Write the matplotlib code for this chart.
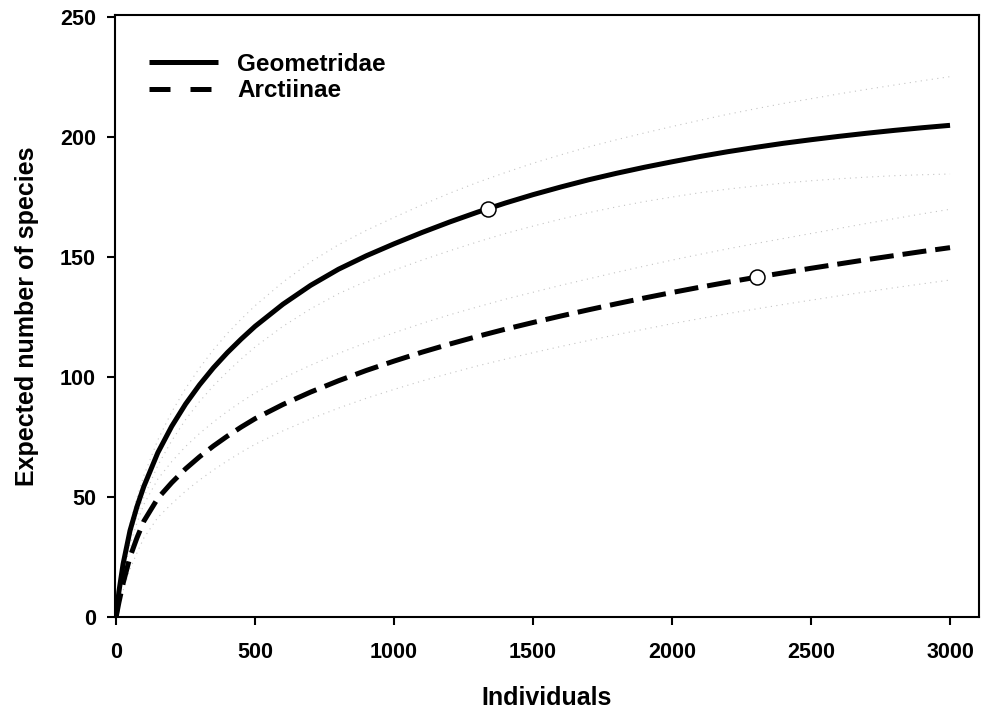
import numpy as np
import matplotlib
matplotlib.use('Agg')
import matplotlib.pyplot as plt
from matplotlib.lines import Line2D

plt.rcParams['font.family'] = ['Liberation Sans', 'DejaVu Sans']
plt.rcParams['font.weight'] = 'bold'

#%% data (rarefaction curves with 95% CI)
x = [0, 10, 25, 50, 75, 100, 150, 200, 250, 300, 350, 400, 450, 500,
     600, 700, 800, 900, 1000, 1100, 1200, 1300, 1400, 1500, 1600, 1700,
     1800, 1900, 2000, 2100, 2200, 2300, 2400, 2500, 2600, 2700, 2800,
     2900, 3000]

geo_mean = [0, 10.5, 22, 36, 46, 54.5, 68.5, 79.5, 88.8, 96.8, 103.9, 110.2, 115.9, 121.2,
            130.4, 138.3, 145.0, 150.6, 155.6, 160.3, 164.7, 168.8, 172.6, 176.1, 179.3,
            182.3, 185.0, 187.5, 189.8, 192.0, 194.0, 195.8, 197.5, 199.0, 200.4, 201.7,
            202.9, 204.0, 205.0]
geo_upper = [0, 11.5, 24, 39, 49.8, 59, 73.8, 85.5, 95.3, 103.8, 111.4, 118.2, 124.2, 129.8,
             139.6, 148.1, 155.2, 161.2, 166.6, 171.8, 176.7, 181.2, 185.3, 189.2, 192.7,
             196.0, 199.0, 201.8, 204.5, 207.1, 209.6, 211.9, 214.1, 216.1, 218.1, 220.0,
             221.8, 223.6, 225.3]
geo_lower = [0, 9.5, 20, 33, 42.2, 50, 63.2, 73.5, 82.3, 89.8, 96.4, 102.2, 107.6, 112.6,
             121.2, 128.5, 134.8, 140.0, 144.6, 148.8, 152.7, 156.4, 159.9, 163.0, 165.9,
             168.6, 171.0, 173.2, 175.1, 176.9, 178.4, 179.7, 180.9, 181.9, 182.7, 183.4,
             184.0, 184.4, 184.7]

arc_mean = [0, 6, 14, 25, 33, 40, 49.5, 56, 61.8, 66.8, 71.3, 75.4, 79.2, 82.7,
            88.6, 93.8, 98.5, 102.8, 106.7, 110.4, 113.8, 117.0, 120.0, 122.8, 125.5,
            128.1, 130.6, 133.0, 135.3, 137.5, 139.6, 141.6, 143.5, 145.4, 147.2, 149.0,
            150.7, 152.4, 154.0]
arc_upper = [0, 7.5, 17, 30, 39.3, 47, 57.5, 64.8, 71.1, 76.5, 81.3, 85.7, 89.7, 93.4,
             99.6, 105.0, 109.9, 114.4, 118.5, 122.4, 126.0, 129.3, 132.5, 135.4, 138.3,
             141.0, 143.7, 146.3, 148.8, 151.2, 153.5, 155.7, 157.8, 159.9, 162.0, 164.1,
             166.1, 168.1, 170.0]
arc_lower = [0, 4.5, 11, 20, 26.7, 33, 41.5, 47.2, 52.5, 57.1, 61.3, 65.1, 68.7, 72.0,
             77.6, 82.6, 87.1, 91.2, 94.9, 98.4, 101.6, 104.7, 107.5, 110.2, 112.8,
             115.3, 117.7, 120.0, 122.3, 124.4, 126.5, 128.4, 130.3, 132.1, 133.9, 135.6,
             137.3, 138.9, 140.5]

# observed sample sizes (open circles)
geo_obs = (1338, 170.2)
arc_obs = (2305, 141.7)

labels = ['Geometridae', 'Arctiinae']

#%% figure
fig = plt.figure(figsize=(9.82, 7.11), dpi=100)
ax = fig.add_axes([0.1171, 0.1322, 0.8798, 0.8467])

ci_style = dict(color='#c4c4c4', lw=0.8, ls=(0, (1, 4)))
for yy in (geo_upper, geo_lower, arc_upper, arc_lower):
    ax.plot(x, yy, **ci_style, zorder=1)

ax.plot(x, geo_mean, color='k', lw=3.6, solid_capstyle='butt',
        solid_joinstyle='round', zorder=3)
ax.plot(x, arc_mean, color='k', lw=3.6, ls=(0, (4.8, 1.8)),
        dash_capstyle='butt', zorder=3)

mk = dict(marker='o', ms=10.8, mfc='white', mec='k', mew=1.1, ls='none', zorder=4)
ax.plot(*geo_obs, **mk)
ax.plot(*arc_obs, **mk)

ax.set_xlim(-4, 3104)
ax.set_ylim(0, 251)
ax.set_xticks(np.arange(0, 3001, 500))
ax.set_yticks(np.arange(0, 251, 50))

for s in ax.spines.values():
    s.set_linewidth(1.5)
ax.tick_params(direction='out', length=5.8, width=1.5, labelsize=15.5)
ax.tick_params(axis='x', pad=12)
ax.tick_params(axis='y', pad=8)

ax.set_xlabel('Individuals', fontsize=18, fontweight='bold', labelpad=17)
ax.set_ylabel('Expected number of species', fontsize=18, fontweight='bold', labelpad=15)

# legend with its own dash pattern
h = [Line2D([], [], color='k', lw=3.6, solid_capstyle='butt'),
     Line2D([], [], color='k', lw=3.6, ls=(0, (4.2, 4.0)), dash_capstyle='butt')]
ax.legend(h, labels, loc='upper left', bbox_to_anchor=(0.039, 0.937),
          frameon=False, handlelength=2.84, handletextpad=0.8,
          labelspacing=0.13, borderpad=0, borderaxespad=0,
          prop={'weight': 'bold', 'size': 17.5})

fig.savefig('out.png', dpi=100)
